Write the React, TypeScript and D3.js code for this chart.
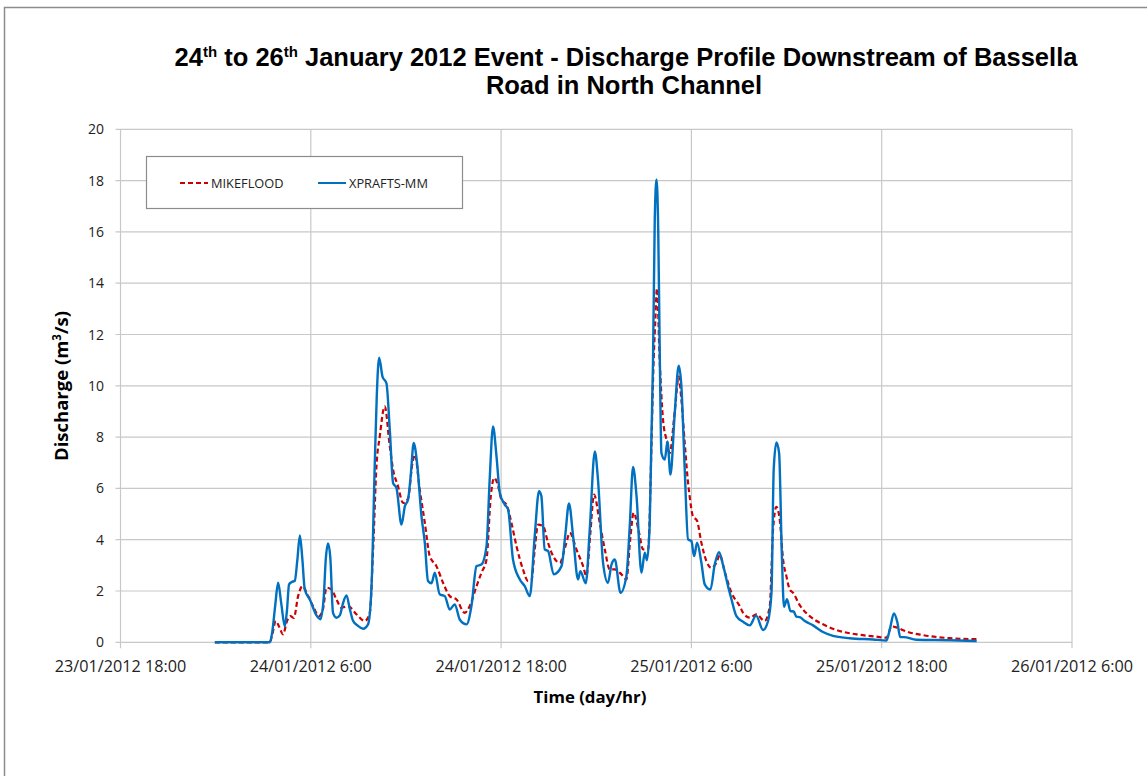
import React from "react";
import * as d3 from "d3";

// hours after 23/01/2012 18:00
const xpraftsHours = [5.95, 9.41, 9.57, 9.75, 9.94, 10.14, 10.36, 10.49, 10.63, 10.8, 10.99, 11.15, 11.31, 11.46, 11.62, 11.94, 12.36, 12.61, 12.82, 12.94, 13.09, 13.23, 13.4, 13.62, 13.83, 14.02, 14.25, 14.46, 14.67, 14.96, 15.3, 15.61, 15.83, 16.03, 16.16, 16.31, 16.52, 16.77, 16.98, 17.19, 17.4, 17.72, 17.93, 18.13, 18.3, 18.49, 18.7, 18.98, 19.19, 19.39, 19.61, 19.82, 20.13, 20.45, 20.76, 21.08, 21.39, 21.82, 22.13, 22.45, 22.76, 23.08, 23.28, 23.49, 23.71, 23.92, 24.23, 24.44, 24.75, 25.18, 25.49, 25.81, 26.12, 26.39, 26.54, 26.75, 26.96, 27.32, 27.81, 28.05, 28.28, 28.54, 28.85, 29.0, 29.34, 29.59, 29.91, 30.11, 30.43, 30.74, 30.96, 31.17, 31.53, 31.9, 32.11, 32.32, 32.54, 32.85, 33.06, 33.2, 33.37, 33.48, 33.58, 33.69, 33.8, 33.91, 34.0, 34.11, 34.32, 34.49, 34.68, 34.95, 35.2, 35.37, 35.58, 35.79, 36.0, 36.17, 36.36, 36.63, 36.84, 37.2, 37.47, 37.74, 38.0, 38.31, 38.53, 38.84, 39.26, 39.68, 40.08, 40.52, 40.83, 41.05, 41.19, 41.36, 41.53, 41.7, 41.84, 42.03, 42.24, 42.45, 42.62, 42.83, 43.15, 43.67, 44.3, 44.93, 45.98, 47.45, 48.3, 48.51, 48.77, 48.99, 49.17, 49.39, 50.19, 52.29, 53.99];
const xpraftsValues = [0, 0, 0.4, 1.4, 2.32, 1.5, 0.63, 1.2, 2.26, 2.35, 2.4, 3.2, 4.17, 3.3, 2.06, 1.67, 1.05, 0.9, 1.8, 3.2, 3.85, 3.3, 1.15, 0.96, 1.05, 1.5, 1.83, 1.3, 0.83, 0.65, 0.53, 0.7, 2.19, 6.86, 9.6, 11.1, 10.36, 10.1, 8.29, 6.21, 6.02, 4.59, 5.3, 5.56, 6.5, 7.77, 6.99, 4.91, 3.88, 2.39, 2.3, 2.71, 1.87, 1.8, 1.28, 1.48, 0.89, 0.7, 1.41, 2.97, 3.03, 3.75, 6.34, 8.42, 7.25, 5.82, 5.37, 5.18, 3.23, 2.45, 2.19, 1.8, 4.14, 5.89, 5.7, 3.62, 3.56, 2.65, 2.97, 4.2, 5.41, 4.14, 2.45, 2.77, 2.3, 4.4, 7.44, 6.34, 3.1, 2.32, 3.03, 3.23, 1.93, 2.58, 4.5, 6.84, 5.7, 2.71, 3.49, 3.2, 4.6, 8.0, 11.0, 16.5, 18.04, 16.0, 11.5, 7.38, 7.12, 7.83, 6.54, 8.94, 10.78, 9.97, 6.73, 4.01, 3.95, 3.36, 3.88, 3.1, 2.26, 2.06, 3.03, 3.51, 3.0, 2.19, 1.67, 1.02, 0.8, 0.66, 1.04, 0.48, 0.82, 1.93, 6.73, 7.79, 7.38, 3.49, 1.38, 1.68, 1.22, 1.2, 1.0, 0.98, 0.83, 0.66, 0.4, 0.25, 0.16, 0.11, 0.07, 0.5, 1.12, 0.77, 0.2, 0.2, 0.1, 0.08, 0.05];

const mikeHours = [5.95, 9.41, 9.57, 9.79, 10.01, 10.25, 10.5, 10.72, 10.93, 11.2, 11.48, 11.83, 12.14, 12.52, 12.77, 12.99, 13.3, 13.62, 13.93, 14.35, 14.88, 15.4, 15.72, 15.93, 16.14, 16.35, 16.66, 16.98, 17.19, 17.5, 17.82, 18.13, 18.41, 18.56, 18.87, 19.19, 19.5, 19.92, 20.34, 20.76, 21.19, 21.71, 22.02, 22.45, 22.76, 23.08, 23.35, 23.56, 23.81, 24.02, 24.34, 24.65, 24.97, 25.38, 25.7, 25.91, 26.12, 26.33, 26.65, 26.96, 27.28, 27.7, 28.08, 28.33, 28.75, 29.17, 29.38, 29.62, 29.86, 30.22, 30.54, 30.85, 31.17, 31.59, 31.9, 32.14, 32.36, 32.7, 32.95, 33.27, 33.48, 33.58, 33.72, 33.83, 34.0, 34.21, 34.43, 34.63, 34.95, 35.2, 35.37, 35.58, 35.79, 35.89, 36.1, 36.35, 36.63, 36.95, 37.26, 37.58, 37.79, 38.1, 38.53, 39.05, 39.26, 39.68, 40.1, 40.62, 40.94, 41.15, 41.36, 41.57, 41.78, 41.99, 42.2, 42.41, 42.83, 43.46, 44.3, 45.14, 46.41, 47.67, 48.3, 48.62, 48.93, 49.56, 50.61, 52.29, 53.99];
const mikeValues = [0, 0, 0.3, 0.83, 0.6, 0.31, 0.83, 1.02, 0.95, 1.8, 2.19, 1.8, 1.41, 1.02, 1.3, 2.13, 2.06, 1.67, 1.35, 1.41, 1.09, 0.83, 1.15, 3.62, 6.86, 8.03, 9.2, 7.64, 6.73, 6.08, 5.43, 5.6, 6.99, 7.32, 5.95, 4.66, 3.36, 2.97, 2.32, 1.8, 1.67, 1.15, 1.41, 2.19, 2.71, 3.23, 5.69, 6.41, 6.1, 5.56, 5.37, 4.66, 3.75, 2.84, 2.39, 2.4, 3.62, 4.59, 4.53, 3.88, 3.36, 3.1, 3.8, 4.27, 3.62, 2.97, 2.58, 4.2, 5.76, 4.66, 3.62, 2.84, 2.84, 2.65, 2.45, 4.0, 5.05, 4.27, 3.62, 3.62, 7.64, 10.2, 12.5, 13.8, 11.0, 8.68, 7.9, 7.38, 9.0, 10.36, 9.45, 7.77, 6.21, 5.69, 4.91, 4.75, 3.88, 3.16, 2.9, 3.1, 3.4, 2.75, 1.93, 1.41, 1.15, 0.96, 1.09, 0.83, 1.4, 4.4, 5.28, 4.79, 3.23, 2.58, 2.06, 1.93, 1.45, 1.02, 0.7, 0.48, 0.31, 0.22, 0.18, 0.62, 0.58, 0.42, 0.28, 0.16, 0.12];

const yTicks = [0, 2, 4, 6, 8, 10, 12, 14, 16, 18, 20];
const xTickHours = [0, 12, 24, 36, 48, 60];
const seriesNames = ["MIKEFLOOD", "XPRAFTS-MM"];

const START = new Date(2012, 0, 23, 18, 0, 0).getTime();
const toDate = (h: number) => new Date(START + h * 3600 * 1000);

export default function App() {
  const W = 1147, H = 776;
  const left = 120.5, right = 1072, top = 129.3, bottom = 642.3;
  const x = d3.scaleTime().domain([toDate(0), toDate(60)]).range([left, right]);
  const y = d3.scaleLinear().domain([0, 20]).range([bottom, top]);
  const fmt = d3.timeFormat("%d/%m/%Y %-H:%M");

  const line = d3
    .line<[number, number]>()
    .x((d) => x(toDate(d[0])))
    .y((d) => y(d[1]))
    .curve(d3.curveMonotoneX);

  const blue: [number, number][] = xpraftsHours.map((h, i) => [h, xpraftsValues[i]]);
  const red: [number, number][] = mikeHours.map((h, i) => [h, mikeValues[i]]);

  const gridColor = "#c8c8c8";
  const font = "'Open Sans', 'DejaVu Sans', sans-serif";
  const titleFont = "'Liberation Sans', Arial, sans-serif";

  return (
    <svg width={W} height={H} style={{ position: "absolute", left: 0, top: 0, background: "#fff" }}>
      <rect x={0} y={0} width={W} height={H} fill="#fff" />
      {/* outer border */}
      <path d={`M4.5,${H} V7.5 H${W}`} fill="none" stroke="#8c8c8c" strokeWidth={1.5} />

      {/* title */}
      <text x={626} y={66} textAnchor="middle" fontFamily={titleFont} fontWeight="bold" fontSize={25.5} fill="#000">
        24<tspan fontSize={15} dy={-9}>th</tspan>
        <tspan dy={9}> to 26</tspan>
        <tspan fontSize={15} dy={-9}>th</tspan>
        <tspan dy={9}> January 2012 Event - Discharge Profile Downstream of Bassella</tspan>
      </text>
      <text x={624} y={94} textAnchor="middle" fontFamily={titleFont} fontWeight="bold" fontSize={25.5} fill="#000">
        Road in North Channel
      </text>

      {/* horizontal gridlines */}
      {yTicks.map((t) => (
        <g key={"y" + t}>
          <line x1={left - 5} x2={right} y1={y(t)} y2={y(t)} stroke={gridColor} strokeWidth={1.2} />
          <text x={104} y={y(t) + 5} textAnchor="end" fontFamily={font} fontSize={14} fill="#222">
            {t}
          </text>
        </g>
      ))}
      {/* vertical gridlines */}
      {xTickHours.map((h) => (
        <g key={"x" + h}>
          <line x1={x(toDate(h))} x2={x(toDate(h))} y1={top} y2={bottom + 6} stroke={gridColor} strokeWidth={1.2} />
          <text x={x(toDate(h))} y={bottom + 30} textAnchor="middle" fontFamily={font} fontSize={16.2} fill="#222">
            {fmt(toDate(h))}
          </text>
        </g>
      ))}

      {/* axis titles */}
      <text x={590} y={703} textAnchor="middle" fontFamily={font} fontWeight="bold" fontSize={16.8} fill="#000">
        Time (day/hr)
      </text>
      <text transform={`translate(68,386) rotate(-90)`} textAnchor="middle" fontFamily={font} fontWeight="bold" fontSize={18.5} fill="#000">
        Discharge (m<tspan fontSize={11.5} dy={-7}>3</tspan>
        <tspan dy={7}>/s)</tspan>
      </text>

      {/* series */}
      <path d={line(red) || ""} fill="none" stroke="#cc0000" strokeWidth={2.2} strokeDasharray="5,3" />
      <path d={line(blue) || ""} fill="none" stroke="#0070c0" strokeWidth={2.4} strokeLinejoin="round" />

      {/* legend */}
      <rect x={146.5} y={156.5} width={316} height={52} fill="#fff" stroke="#8c8c8c" strokeWidth={1.2} />
      <line x1={180} x2={208} y1={183} y2={183} stroke="#cc0000" strokeWidth={2} strokeDasharray="5,3" />
      <text x={211} y={187.5} fontFamily={font} fontSize={12.8} fill="#222">
        {seriesNames[0]}
      </text>
      <line x1={318} x2={346} y1={183} y2={183} stroke="#0070c0" strokeWidth={2} />
      <text x={349} y={187.5} fontFamily={font} fontSize={12.8} fill="#222">
        {seriesNames[1]}
      </text>
    </svg>
  );
}
